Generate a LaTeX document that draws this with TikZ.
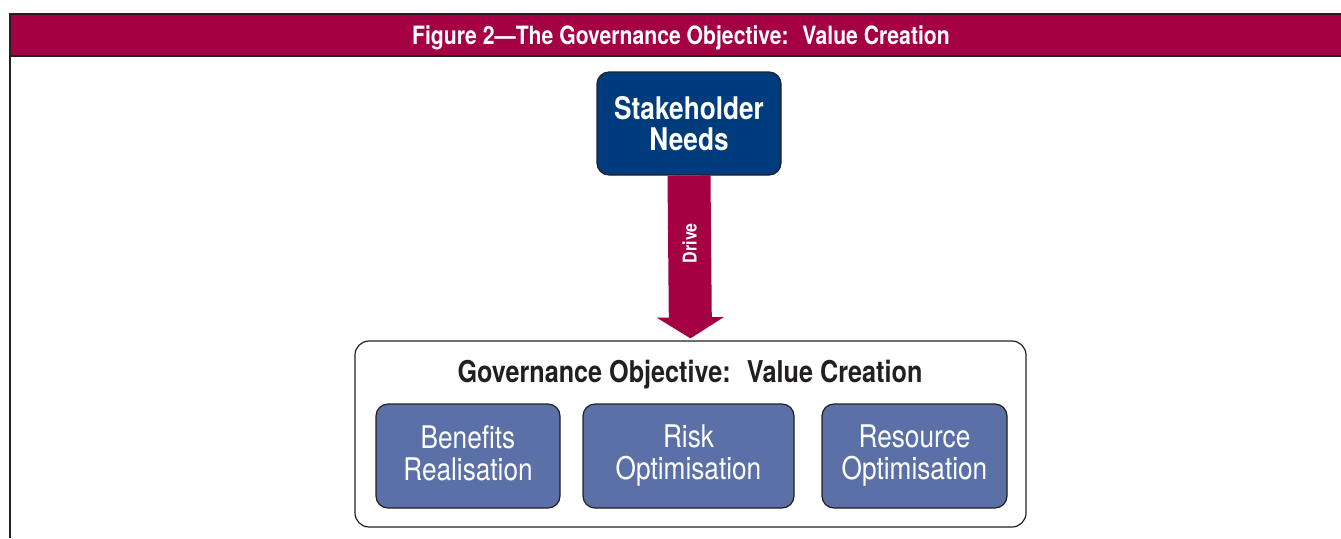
\documentclass[tikz,border=0pt]{standalone}
\usepackage{fontspec}
\setmainfont{TeX Gyre Heros}[FakeStretch=0.84]
\usetikzlibrary{arrows.meta}

\definecolor{figred}{HTML}{A50044}
\definecolor{needsblue}{HTML}{003C7D}
\definecolor{areablue}{HTML}{5B70A7}
\definecolor{edgegrey}{HTML}{231F20}

\newcommand{\boxstrut}{\rule[-2.5pt]{0pt}{14pt}}

\tikzset{
  frameline/.style={draw=edgegrey, line width=1pt},
  needsbox/.style={fill=needsblue, draw=edgegrey, line width=0.6pt, rounded corners=6pt, text=white,
    font=\bfseries\fontsize{15.6}{15.5}\selectfont, align=center, minimum width=92pt, minimum height=51.5pt, inner sep=0pt},
  govbox/.style={fill=white, draw=edgegrey, line width=0.6pt, rounded corners=7pt, minimum width=335.5pt, minimum height=93pt, inner sep=0pt},
  areabox/.style={fill=areablue, draw=edgegrey, line width=0.6pt, rounded corners=6pt, text=white,
    font=\fontsize{15.6}{16}\selectfont, align=center, minimum height=52pt, inner sep=0pt,
    execute at begin node=\boxstrut, execute at end node=\boxstrut},
  drivearrow/.style={draw=figred, line width=21.5pt, -{Triangle[width=33pt, length=10.5pt]}, shorten >=1pt}
}

\begin{document}
\begin{tikzpicture}[x=0.5pt, y=-0.5pt]
        \useasboundingbox (0,0) rectangle (1341,538);
        % title bar and frame
        \fill[figred] (10,14) rectangle (1341,56);
        \draw[frameline] (1341,14) -- (10,14) -- (10,538);
        \draw[frameline] (10,56) -- (1341,56);
        \node[anchor=base, text=white, font=\bfseries\fontsize{12.6}{14}\selectfont] (figtitle) at (681,44) {Figure 2—The Governance Objective:~ Value Creation};

        \node[needsbox] (needs) at (689,123.5) {Stakeholder\\Needs};
        \node[govbox] (gov) at (690.5,434) {};
        \node[anchor=base, text=edgegrey, font=\bfseries\fontsize{15}{17}\selectfont] (govtitle) at (690,382) {Governance Objective:~ Value Creation};

        \node[areabox, minimum width=92pt] (benefits) at (468,456) {Benefits\\Realisation};
        \node[areabox, minimum width=105.5pt] (risk) at (688.5,456) {Risk\\Optimisation};
        \node[areabox, minimum width=92.5pt] (resource) at (914.5,456) {Resource\\Optimisation};

        \draw[drivearrow] (needs.south) -- (gov.north) node[pos=0.41, rotate=90, text=white, font=\bfseries\fontsize{9.5}{11}\selectfont] (drive) {Drive};
\end{tikzpicture}
\end{document}
